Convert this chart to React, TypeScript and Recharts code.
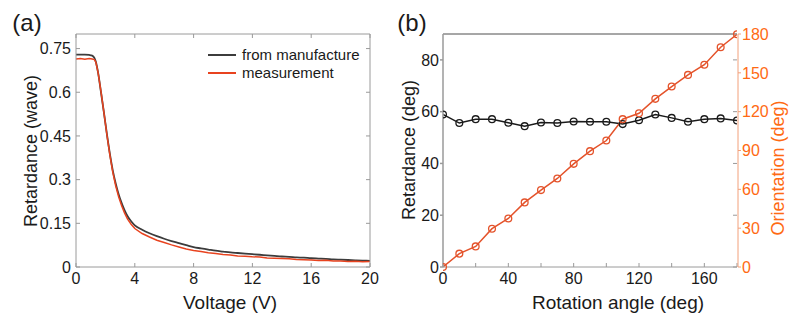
import React from "react";
import { LineChart, Line, XAxis, YAxis, ReferenceLine } from "recharts";

// panel (a): retardance vs voltage
const voltage = [0, 0.3, 0.6, 0.9, 1.1, 1.25, 1.35, 1.5, 1.7, 1.9, 2.1, 2.3, 2.5, 2.7, 2.9, 3.1, 3.3, 3.5, 3.75, 4, 4.5, 5, 5.5, 6, 6.5, 7, 7.5, 8, 8.5, 9, 9.5, 10, 10.5, 11, 11.5, 12, 12.5, 13, 13.5, 14, 14.5, 15, 15.5, 16, 16.5, 17, 17.5, 18, 18.5, 19, 19.5, 20];
const manufacture = [0.729, 0.729, 0.729, 0.728, 0.726, 0.718, 0.705, 0.668, 0.6, 0.53, 0.457, 0.39, 0.332, 0.287, 0.25, 0.22, 0.195, 0.175, 0.157, 0.143, 0.128, 0.116, 0.106, 0.097, 0.089, 0.082, 0.075, 0.068, 0.064, 0.06, 0.056, 0.053, 0.05, 0.048, 0.046, 0.044, 0.042, 0.04, 0.038, 0.036, 0.035, 0.033, 0.032, 0.03, 0.029, 0.028, 0.026, 0.025, 0.024, 0.023, 0.022, 0.021];
const measurement = [0.714, 0.716, 0.713, 0.716, 0.714, 0.712, 0.703, 0.668, 0.602, 0.53, 0.455, 0.386, 0.326, 0.279, 0.241, 0.211, 0.186, 0.165, 0.147, 0.132, 0.115, 0.103, 0.092, 0.084, 0.076, 0.069, 0.062, 0.057, 0.053, 0.049, 0.046, 0.043, 0.041, 0.038, 0.037, 0.035, 0.034, 0.031, 0.03, 0.029, 0.028, 0.026, 0.025, 0.024, 0.022, 0.023, 0.021, 0.021, 0.019, 0.02, 0.018, 0.019];
const voltTicks = [0, 4, 8, 12, 16, 20];
const waveTicks = [0, 0.15, 0.3, 0.45, 0.6, 0.75];

// panel (b): retardance / orientation vs rotation angle
const angle = [0, 10, 20, 30, 40, 50, 60, 70, 80, 90, 100, 110, 120, 130, 140, 150, 160, 170, 180];
const retardance = [58.9, 55.6, 57.1, 57.1, 55.7, 54.4, 55.8, 55.6, 56.2, 56.1, 56.1, 55.2, 56.7, 58.9, 57.6, 56.1, 57.1, 57.4, 56.6];
const orientation = [0, 10.3, 15.9, 29.6, 37.5, 49.9, 59.4, 68.4, 79.7, 89.5, 97.7, 114.2, 118.8, 129.9, 139.4, 148.4, 156.3, 169.8, 179.8];
const angleTicks = [0, 20, 40, 60, 80, 100, 120, 140, 160, 180];
const retTicks = [0, 20, 40, 60, 80];
const oriTicks = [0, 30, 60, 90, 120, 150, 180];
const retMax = 90;

const dataA = voltage.map((v, i) => ({ v, man: manufacture[i], meas: measurement[i] }));
const dataB = angle.map((a, i) => ({ a, ret: retardance[i], ori: orientation[i] }));

const FONT = "'Liberation Sans', Arial, sans-serif";
const TXT = "#1a1a1a";
const BOX = "#9a9a9a";
const ORANGE = "#ff6a13";
const ORANGE_LINE = "#e4532b";
const MAN = "#3c3c3c";
const MEAS = "#e8431f";
const tickStyle = { fill: TXT, fontSize: 16 };
const blank = () => "";

const legendItems = [
  { name: "from manufacture", color: MAN },
  { name: "measurement", color: MEAS },
];

function Title({ x, y, text, size, color = TXT, rotate = false }: { x: number; y: number; text: string; size: number; color?: string; rotate?: boolean }) {
  return (
    <div
      style={{
        position: "absolute", left: x, top: y, fontSize: size, lineHeight: 1, color, whiteSpace: "nowrap",
        transform: `translate(-50%, -50%)${rotate ? " rotate(-90deg)" : ""}`,
      }}
    >
      {text}
    </div>
  );
}

export default function App() {
  return (
    <div style={{ position: "absolute", left: 0, top: 0, width: 790, height: 323, background: "#fff", fontFamily: FONT, overflow: "hidden" }}>
      <div style={{ position: "absolute", left: 0, top: 0 }}>
        <LineChart width={400} height={323} data={dataA} margin={{ top: 33, right: 29, bottom: 0, left: 0 }}>
          <XAxis xAxisId="b" dataKey="v" type="number" domain={[0, 20]} ticks={voltTicks} interval={0} height={56}
            tickSize={-4} tickMargin={10} stroke={BOX} tick={tickStyle} />
          <XAxis xAxisId="t" orientation="top" dataKey="v" type="number" domain={[0, 20]} ticks={voltTicks}
            interval={0} height={1} tickSize={-4} tickFormatter={blank} stroke={BOX} />
          <YAxis yAxisId="l" type="number" domain={[0, 0.8]} ticks={waveTicks} interval={0} width={76}
            tickSize={-4} tickMargin={9} stroke={BOX} tick={tickStyle} />
          <YAxis yAxisId="r" orientation="right" type="number" domain={[0, 0.8]} ticks={waveTicks} interval={0}
            width={1} tickSize={-4} tickFormatter={blank} stroke={BOX} />
          <Line xAxisId="b" yAxisId="l" dataKey="man" type="monotone" stroke={MAN} strokeWidth={1.8} dot={false} isAnimationActive={false} />
          <Line xAxisId="t" yAxisId="r" dataKey="meas" type="linear" stroke={MEAS} strokeWidth={1.5} dot={false} isAnimationActive={false} />
        </LineChart>
      </div>

      <div style={{ position: "absolute", left: 208, top: 46, fontSize: 15, color: TXT, lineHeight: "18px" }}>
        {legendItems.map(it => (
          <div key={it.name} style={{ display: "flex", alignItems: "center", whiteSpace: "nowrap" }}>
            <div style={{ width: 28, height: 2, flexShrink: 0, background: it.color, marginRight: 6 }} />
            <div>{it.name}</div>
          </div>
        ))}
      </div>

      <div style={{ position: "absolute", left: 400, top: 0 }}>
        <LineChart width={390} height={323} data={dataB} margin={{ top: 33, right: 0, bottom: 0, left: 0 }}>
          <XAxis xAxisId="b" dataKey="a" type="number" domain={[0, 180]} ticks={angleTicks} interval={0} height={56}
            allowDataOverflow tickSize={-4} tickMargin={10} stroke={BOX} tick={tickStyle}
            tickFormatter={(v: number) => (v % 40 === 0 ? String(v) : "")} />
          <XAxis xAxisId="t" orientation="top" dataKey="a" type="number" domain={[0, 180]} ticks={angleTicks}
            interval={0} height={1} tickSize={-4} tickLine={{ stroke: "none" }} tickFormatter={blank} stroke={BOX} />
          <YAxis yAxisId="ret" type="number" domain={[0, retMax]} ticks={retTicks} interval={0} width={43}
            allowDataOverflow tickSize={3} tickMargin={1} stroke={BOX} strokeWidth={1.5} tick={tickStyle} />
          <YAxis yAxisId="r1" orientation="right" type="number" domain={[0, retMax]} ticks={retTicks} interval={0}
            width={1} tickSize={-4} tickFormatter={blank} axisLine={false} stroke={BOX} />
          <YAxis yAxisId="r2" orientation="right" type="number" domain={[0, 180]} ticks={oriTicks} interval={0}
            width={52} tickSize={3} tickMargin={1} stroke="#f2a07a" tick={{ fill: ORANGE, fontSize: 16 }} />
          {/* top edge of the frame */}
          <ReferenceLine xAxisId="b" yAxisId="ret" y={retMax} ifOverflow="visible" stroke={BOX} strokeWidth={1.3} />
          {/* same retardance values bound to the mirrored right scale so its gray ticks get drawn */}
          <Line xAxisId="t" yAxisId="r1" dataKey="ret" stroke="none" dot={false} legendType="none" isAnimationActive={false} />
          <Line xAxisId="b" yAxisId="ret" dataKey="ret" type="linear" stroke="#1a1a1a" strokeWidth={1.5}
            dot={{ r: 3.4, stroke: "#1a1a1a", strokeWidth: 1.3, fill: "none" }} isAnimationActive={false} />
          <Line xAxisId="b" yAxisId="r2" dataKey="ori" type="linear" stroke={ORANGE_LINE} strokeWidth={1.5}
            dot={{ r: 3.4, stroke: ORANGE_LINE, strokeWidth: 1.3, fill: "none" }} isAnimationActive={false} />
        </LineChart>
      </div>

      <Title x={27} y={23} text="(a)" size={24} />
      <Title x={412} y={23} text="(b)" size={24} />
      <Title x={31} y={151} text="Retardance (wave)" size={18} rotate />
      <Title x={230} y={302} text="Voltage (V)" size={19} />
      <Title x={409} y={150} text="Retardance (deg)" size={18} rotate />
      <Title x={618} y={302} text="Rotation angle (deg)" size={19} />
      <Title x={778} y={168} text="Orientation (deg)" size={18} color={ORANGE} rotate />
    </div>
  );
}
